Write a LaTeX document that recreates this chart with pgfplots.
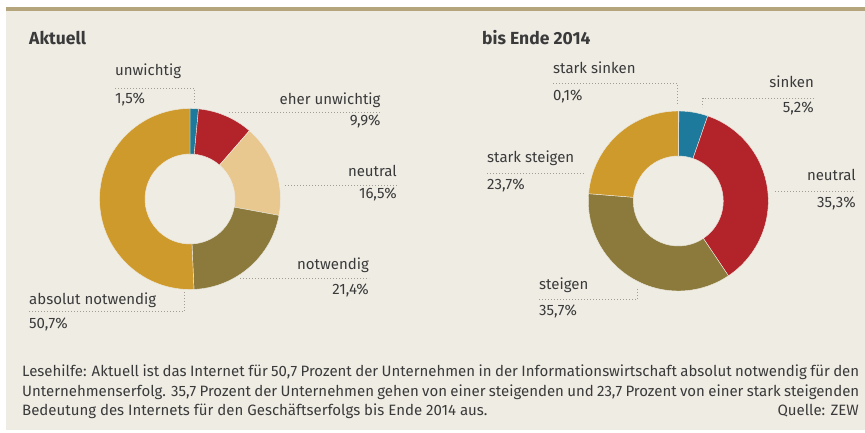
\documentclass[border=0pt]{standalone}
\usepackage{fontspec}
\setmainfont{Fira Sans}
\newfontfamily\condfont{Fira Sans}
\usepackage{pgfplots}
\usepackage{pgfplotstable}
\pgfplotsset{compat=1.18}

\definecolor{cblue}{HTML}{1D7A9C}
\definecolor{cred}{HTML}{B2232A}
\definecolor{ctan}{HTML}{E9C88F}
\definecolor{colive}{HTML}{8B7A3C}
\definecolor{cgold}{HTML}{CF9A2C}
\definecolor{cpale}{HTML}{E9C88F}
\definecolor{cbg}{HTML}{EFECE4}
\definecolor{cline}{HTML}{B4A57C}
\definecolor{ctext}{HTML}{3A3A3A}
\definecolor{cdot}{HTML}{A29E96}

\pgfplotstableread{
label value color
unwichtig 1.5 cblue
eher 9.9 cred
neutral 16.5 ctan
notwendig 21.4 colive
absolut 50.7 cgold
}\dataA

\pgfplotstableread{
label value color
starksinken 0.1 cpale
sinken 5.2 cblue
neutral 35.3 cred
steigen 35.7 colive
starksteigen 23.7 cgold
}\dataB

\newcommand{\donut}[5]{%
  \def\cum{0}%
  \pgfplotsforeachungrouped \row in {0,...,4}{%
    \pgfplotstablegetelem{\row}{value}\of{#1}\let\val\pgfplotsretval
    \pgfplotstablegetelem{\row}{color}\of{#1}\let\col\pgfplotsretval
    \pgfmathsetmacro\sa{90-3.6*\cum}%
    \pgfmathsetmacro\cum{\cum+\val}%
    \pgfmathsetmacro\ea{90-3.6*\cum}%
    \pgfmathsetmacro\xa{#2+#4*cos(\sa)}%
    \pgfmathsetmacro\ya{#3-#4*sin(\sa)}%
    \pgfmathsetmacro\xb{#2+#5*cos(\ea)}%
    \pgfmathsetmacro\yb{#3-#5*sin(\ea)}%
    \edef\temp{\noexpand\fill[\col, draw=cbg, line width=0.4pt] (axis cs:\xa,\ya) arc[start angle=\sa, end angle=\ea, radius=#4pt] -- (axis cs:\xb,\yb) arc[start angle=\ea, end angle=\sa, radius=#5pt] -- cycle;}%
    \temp
  }%
}

\tikzset{
  lab/.style={inner sep=0pt, text=ctext, font=\fontsize{15}{17}\selectfont},
  lead/.style={cdot, line width=1pt, dash pattern=on 1pt off 2pt},
  foot/.style={inner sep=0pt, text=ctext, anchor=mid west, font=\condfont\fontsize{15}{17}\selectfont},
}

\begin{document}
\begin{tikzpicture}
\begin{axis}[x=1pt, y=1pt, xmin=0, xmax=865, ymin=0, ymax=433, y dir=reverse,
  hide axis, clip=false, scale only axis]
\fill[white] (axis cs:0,0) rectangle (axis cs:865,433);
\fill[cbg] (axis cs:6,10.7) rectangle (axis cs:865,430);
\fill[cline] (axis cs:6,6.7) rectangle (axis cs:865,10.7);

% titles
\node[inner sep=0pt, anchor=mid west, text=ctext, font=\bfseries\fontsize{17.5}{20}\selectfont] at (axis cs:29,42) {Aktuell};
\node[inner sep=0pt, anchor=mid west, text=ctext, font=\bfseries\fontsize{17.5}{20}\selectfont] at (axis cs:482,42) {bis Ende 2014};

% donuts
\donut{\dataA}{190}{199}{90.5}{45}
\donut{\dataB}{678.3}{201}{90}{45}

% leaders chart 1
\draw[lead] (axis cs:115,88.3) -- (axis cs:194,88.3) -- (axis cs:194,104);
\draw[lead] (axis cs:229,112.7) -- (axis cs:380.7,112.7);
\draw[lead] (axis cs:285,185) -- (axis cs:397,185);
\draw[lead] (axis cs:240,278.7) -- (axis cs:369,278.7);
\draw[lead] (axis cs:29,311.7) -- (axis cs:184,311.7) -- (axis cs:184,292);
% leaders chart 2
\draw[lead] (axis cs:553,84) -- (axis cs:677.7,84) -- (axis cs:677.7,106);
\draw[lead] (axis cs:814,98.3) -- (axis cs:702.7,98.3) -- (axis cs:702.7,107);
\draw[lead] (axis cs:487,173.3) -- (axis cs:585,173.3);
\draw[lead] (axis cs:775,191.7) -- (axis cs:856,191.7);
\draw[lead] (axis cs:539,299.3) -- (axis cs:637.7,299.3) -- (axis cs:637.7,287);

% labels chart 1
\node[lab, anchor=mid west] at (axis cs:115,73) {unwichtig};
\node[lab, anchor=mid west] at (axis cs:115,101) {1,5\%};
\node[lab, anchor=mid east] at (axis cs:380.7,101.7) {eher unwichtig};
\node[lab, anchor=mid east] at (axis cs:380.7,123.3) {9,9\%};
\node[lab, anchor=mid east] at (axis cs:397,174) {neutral};
\node[lab, anchor=mid east] at (axis cs:397,196) {16,5\%};
\node[lab, anchor=mid east] at (axis cs:369,267) {notwendig};
\node[lab, anchor=mid east] at (axis cs:369,292) {21,4\%};
\node[lab, anchor=mid west] at (axis cs:29,302) {absolut notwendig};
\node[lab, anchor=mid west] at (axis cs:29,326) {50,7\%};
% labels chart 2
\node[lab, anchor=mid west] at (axis cs:553,70.7) {stark sinken};
\node[lab, anchor=mid west] at (axis cs:553,98) {0,1\%};
\node[lab, anchor=mid east] at (axis cs:814,85) {sinken};
\node[lab, anchor=mid east] at (axis cs:814,110) {5,2\%};
\node[lab, anchor=mid west] at (axis cs:487,160) {stark steigen};
\node[lab, anchor=mid west] at (axis cs:487,186.7) {23,7\%};
\node[lab, anchor=mid east] at (axis cs:856,178) {neutral};
\node[lab, anchor=mid east] at (axis cs:856,205) {35,3\%};
\node[lab, anchor=mid west] at (axis cs:539,287) {steigen};
\node[lab, anchor=mid west] at (axis cs:539,313) {35,7\%};

% footnote
\node[foot] at (axis cs:22,374) {\makebox[837pt][s]{Lesehilfe: Aktuell ist das Internet für 50,7 Prozent der Unternehmen in der Informationswirtschaft absolut notwendig für den}};
\node[foot] at (axis cs:22,393.5) {\makebox[837pt][s]{Unternehmenserfolg. 35,7 Prozent der Unternehmen gehen von einer steigenden und 23,7 Prozent von einer stark steigenden}};
\node[foot] at (axis cs:22,413) {Bedeutung des Internets für den Geschäftserfolgs bis Ende 2014 aus.};
\node[foot, anchor=mid east] at (axis cs:859,413) {Quelle: ZEW};
\end{axis}
\end{tikzpicture}
\end{document}
